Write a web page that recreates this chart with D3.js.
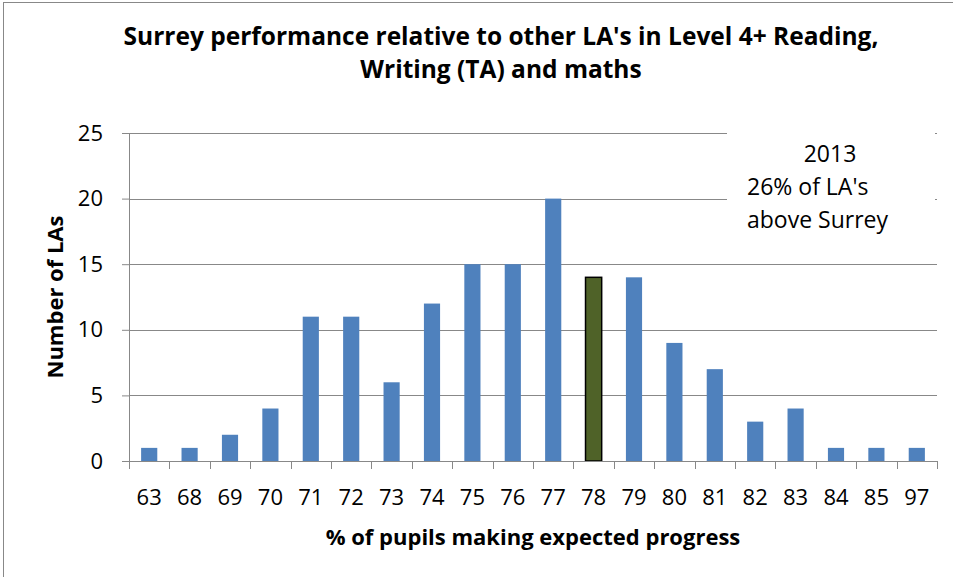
<!DOCTYPE html>
<html lang="en">
<head>
<meta charset="UTF-8">
<script src="https://d3js.org/d3.v7.min.js"></script>
<title>Surrey performance</title>
<style>
  body { margin: 0; background: #fff; }
  text { font-family: "Open Sans", sans-serif; fill: #000; }
</style>
</head>
<body>
<svg id="chart"></svg>
<script>
// data
const categories = ["63","68","69","70","71","72","73","74","75","76","77","78","79","80","81","82","83","84","85","97"];
const counts = [1,1,2,4,11,11,6,12,15,15,20,14,14,9,7,3,4,1,1,1];
const highlight = "78";   // Surrey
const yTicks = [0,5,10,15,20,25];
const titleLines = ["Surrey performance relative to other LA's in Level 4+ Reading,", "Writing (TA) and maths"];
const noteLines = ["2013", "26% of LA's", "above Surrey"];

const width = 953, height = 577;
const margin = {top: 133, right: 16, bottom: 116, left: 129};

const svg = d3.select("#chart").attr("width", width).attr("height", height);

// outer chart frame
svg.append("rect").attr("x", 3.5).attr("y", 2.5).attr("width", 1000).attr("height", 1000)
  .attr("fill", "none").attr("stroke", "#888");

const x = d3.scaleBand()
  .domain(categories)
  .range([margin.left, width - margin.right])
  .paddingInner(0.6).paddingOuter(0.3);

const y = d3.scaleLinear()
  .domain([0, 25])
  .range([height - margin.bottom, margin.top]);

// y axis
const yAxis = d3.axisLeft(y).tickValues(yTicks).tickSize(7).tickPadding(19);
svg.append("g").attr("transform", `translate(${margin.left},0)`)
  .call(yAxis)
  .call(g => g.select(".domain").attr("stroke", "#888"))
  .call(g => g.selectAll(".tick line").attr("stroke", "#888"))
  .call(g => g.selectAll(".tick text").attr("font-size", 22).attr("font-family", "Open Sans"));

// gridlines
svg.append("g").selectAll("line").data(yTicks.filter(d => d > 0)).enter().append("line")
  .attr("x1", margin.left).attr("x2", width - margin.right)
  .attr("y1", d => Math.round(y(d)) + 0.5).attr("y2", d => Math.round(y(d)) + 0.5)
  .attr("stroke", "#888").attr("stroke-width", 1);

// bars
svg.append("g").selectAll("rect").data(categories).enter().append("rect")
  .attr("x", d => x(d))
  .attr("width", x.bandwidth())
  .attr("y", (d, i) => y(counts[i]))
  .attr("height", (d, i) => y(0) - y(counts[i]))
  .attr("fill", d => d === highlight ? "#4f6228" : "#4f81bd")
  .attr("stroke", d => d === highlight ? "#000" : "none")
  .attr("stroke-width", 1.5);

// x axis with ticks on category boundaries
const xg = svg.append("g").attr("transform", `translate(0,${y(0)})`);
xg.append("line").attr("x1", margin.left).attr("x2", width - margin.right)
  .attr("y1", 0.5).attr("y2", 0.5).attr("stroke", "#888");
const bounds = d3.range(categories.length + 1).map(i => margin.left + i * x.step());
xg.selectAll(".bt").data(bounds).enter().append("line")
  .attr("x1", d => Math.round(d) + 0.5).attr("x2", d => Math.round(d) + 0.5)
  .attr("y1", 0).attr("y2", 8).attr("stroke", "#888");
xg.selectAll(".lbl").data(categories).enter().append("text")
  .attr("x", d => x(d) + x.bandwidth() / 2)
  .attr("y", 44)
  .attr("text-anchor", "middle")
  .attr("font-size", 22)
  .text(d => d);

// annotation box covering the gridlines
svg.append("rect").attr("x", 727).attr("y", 124).attr("width", 208).attr("height", 130).attr("fill", "#fff");
svg.append("text").attr("x", 830).attr("y", 162).attr("text-anchor", "middle").attr("font-size", 23).text(noteLines[0]);
svg.selectAll(".note").data(noteLines.slice(1)).enter().append("text")
  .attr("x", 747).attr("y", (d, i) => 195 + i * 32.5).attr("font-size", 23).text(d => d);

// titles
svg.selectAll(".title").data(titleLines).enter().append("text")
  .attr("x", 501).attr("y", (d, i) => 45 + i * 33)
  .attr("text-anchor", "middle").attr("font-size", 24.5).attr("font-weight", "bold")
  .text(d => d);

svg.append("text")
  .attr("transform", `translate(63,297) rotate(-90)`)
  .attr("text-anchor", "middle").attr("font-size", 22).attr("font-weight", "bold")
  .text("Number of LAs");

svg.append("text")
  .attr("x", 533).attr("y", 545)
  .attr("text-anchor", "middle").attr("font-size", 22).attr("font-weight", "bold")
  .text("% of pupils making expected progress");
</script>
</body>
</html>
